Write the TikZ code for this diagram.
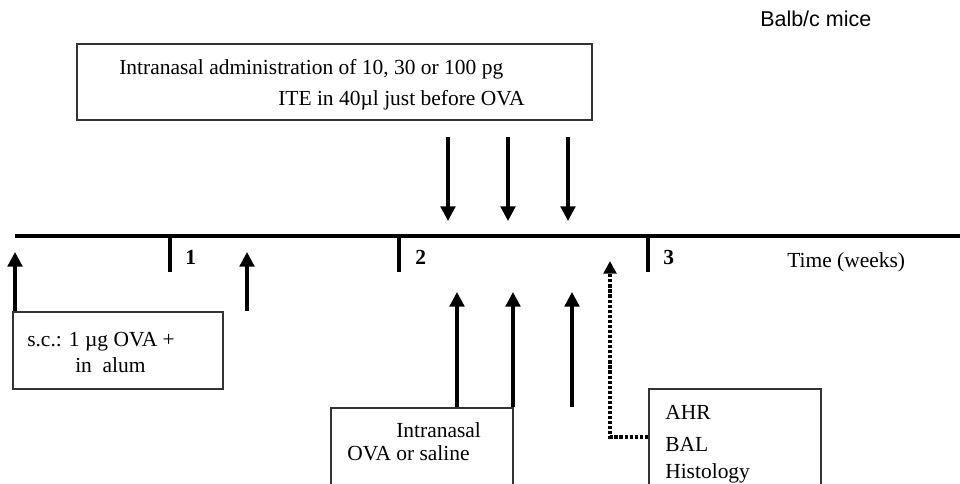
\documentclass[tikz,border=0pt]{standalone}
\usepackage{fontspec}
\setmainfont{Liberation Serif}
\newfontfamily\micefont{Liberation Sans}
\usetikzlibrary{arrows.meta}

\newcommand{\labelsize}{\fontsize{16.1}{19}\selectfont}

\tikzset{
  box/.style={draw=black!80, line width=1.5pt, anchor=north west, inner sep=0pt},
  txt/.style={anchor=base west, inner sep=0pt, font=\labelsize},
  week/.style={anchor=base west, inner sep=0pt, font=\labelsize\bfseries},
  arr/.style={line width=2.4pt, -{Triangle[length=11pt,width=11pt]}},
  dotarr/.style={line width=2.6pt, dash pattern=on 2.4pt off 1.4pt, -{Triangle[length=9.5pt,width=9.5pt]}},
}

\begin{document}
\begin{tikzpicture}[x=0.75pt, y=-0.75pt]
  \clip (0,0) rectangle (960,484);

  % time axis
  \coordinate (t0) at (15,236);
  \coordinate (tend) at (962,236);
  \draw[line width=3pt] (t0) -- (tend);
  \coordinate (k1) at (170,236);
  \coordinate (k2) at (399,236);
  \coordinate (k3) at (648,236);
  \draw[line width=3pt] (k1) -- ++(0,36);
  \draw[line width=3pt] (k2) -- ++(0,36);
  \draw[line width=3pt] (k3) -- ++(0,36);
  \node[week] (w1) at (185,265) {1};
  \node[week] (w2) at (415,265) {2};
  \node[week] (w3) at (663,265) {3};
  \node[txt] (time) at (787,268) {Time (weeks)};
  \node[anchor=base west, inner sep=0pt, font=\micefont\labelsize] (mice) at (760,27) {Balb/c mice};

  % boxes
  \node[box, minimum width=386.25pt, minimum height=57pt] (itebox) at (76,43) {};
  \node[txt] (ite1) at (119,75) {Intranasal administration of 10, 30 or 100 pg};
  \node[txt] (ite2) at (278,106) {ITE in 40µl just before OVA};

  \node[box, minimum width=157.5pt, minimum height=57.75pt] (scbox) at (12,311) {};
  \node[txt] (sc1) at (27,347) {s.c.: 1 µg OVA +};
  \node[txt] (sc2) at (75,373) {in~~alum};

  \node[box, minimum width=136.5pt, minimum height=70pt] (inbox) at (330,407) {};
  \node[txt] (in1) at (396,437) {Intranasal};
  \node[txt] (in2) at (347,460) {OVA or saline};

  \node[box, minimum width=129pt, minimum height=84pt] (readbox) at (648,388) {};
  \node[txt] (r1) at (665,420) {AHR};
  \node[txt] (r2) at (665,451) {BAL};
  \node[txt] (r3) at (665,478) {Histology};

  % ITE doses
  \coordinate (d1) at (448,137); \coordinate (e1) at (448,221);
  \coordinate (d2) at (508,137); \coordinate (e2) at (508,221);
  \coordinate (d3) at (568,137); \coordinate (e3) at (568,221);
  \draw[arr] (d1) -- (e1);
  \draw[arr] (d2) -- (e2);
  \draw[arr] (d3) -- (e3);

  % sensitisation
  \coordinate (s1) at (15,311); \coordinate (u1) at (15,252);
  \coordinate (s2) at (247,311); \coordinate (u2) at (247,252);
  \draw[arr] (s1) -- (u1);
  \draw[arr] (s2) -- (u2);

  % challenge
  \coordinate (c1) at (457,407); \coordinate (v1) at (457,292);
  \coordinate (c2) at (513,407); \coordinate (v2) at (513,292);
  \coordinate (c3) at (572,407); \coordinate (v3) at (572,292);
  \draw[arr] (c1) -- (v1);
  \draw[arr] (c2) -- (v2);
  \draw[arr] (c3) -- (v3);

  % read-out
  \coordinate (m1) at (610,437);
  \coordinate (m2) at (610,261);
  \draw[dotarr] (readbox.west |- m1) -- (m1) -- (m2);
\end{tikzpicture}
\end{document}
